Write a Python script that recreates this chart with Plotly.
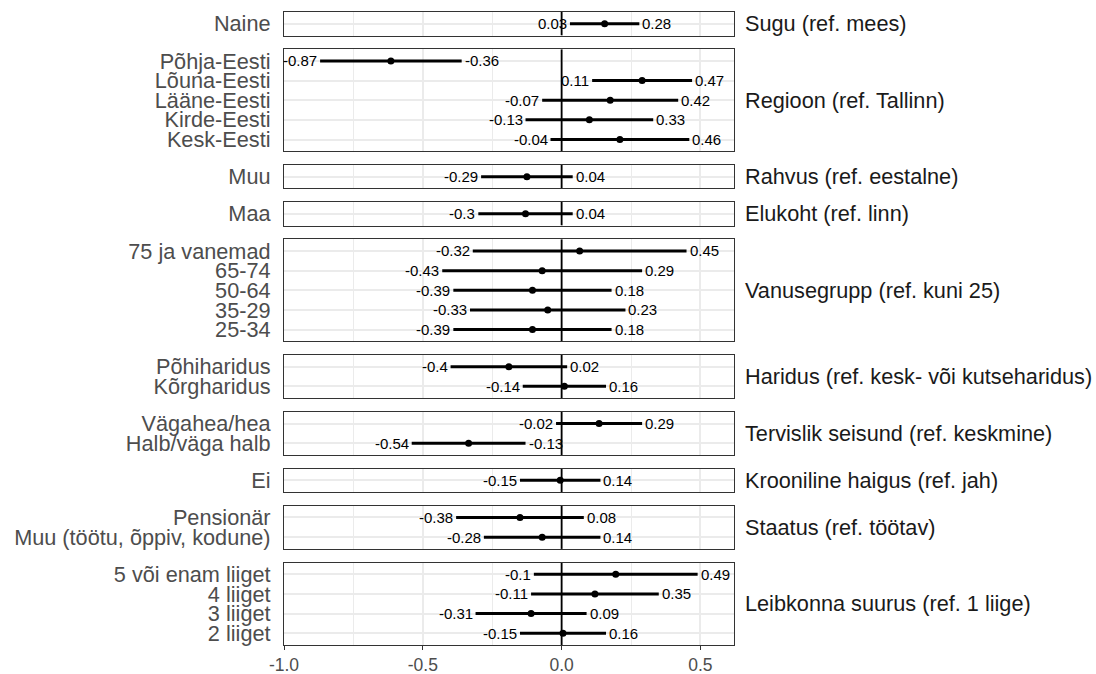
import plotly.graph_objects as go

# ---- data: one row per model term ----
terms = [
    "Naine",
    "Põhja-Eesti", "Lõuna-Eesti", "Lääne-Eesti", "Kirde-Eesti", "Kesk-Eesti",
    "Muu",
    "Maa",
    "75 ja vanemad", "65-74", "50-64", "35-29", "25-34",
    "Põhiharidus", "Kõrgharidus",
    "Vägahea/hea", "Halb/väga halb",
    "Ei",
    "Pensionär", "Muu (töötu, õppiv, kodune)",
    "5 või enam liiget", "4 liiget", "3 liiget", "2 liiget",
]
groups = (
    ["Sugu (ref. mees)"]
    + ["Regioon (ref. Tallinn)"] * 5
    + ["Rahvus (ref. eestalne)"]
    + ["Elukoht (ref. linn)"]
    + ["Vanusegrupp (ref. kuni 25)"] * 5
    + ["Haridus (ref. kesk- või kutseharidus)"] * 2
    + ["Tervislik seisund (ref. keskmine)"] * 2
    + ["Krooniline haigus (ref. jah)"]
    + ["Staatus (ref. töötav)"] * 2
    + ["Leibkonna suurus (ref. 1 liige)"] * 4
)
estimate = [
    0.155,
    -0.615, 0.29, 0.175, 0.10, 0.21,
    -0.125,
    -0.13,
    0.065, -0.07, -0.105, -0.05, -0.105,
    -0.19, 0.01,
    0.135, -0.335,
    -0.005,
    -0.15, -0.07,
    0.195, 0.12, -0.11, 0.005,
]
ci_low = [
    0.03,
    -0.87, 0.11, -0.07, -0.13, -0.04,
    -0.29,
    -0.30,
    -0.32, -0.43, -0.39, -0.33, -0.39,
    -0.40, -0.14,
    -0.02, -0.54,
    -0.15,
    -0.38, -0.28,
    -0.10, -0.11, -0.31, -0.15,
]
ci_high = [
    0.28,
    -0.36, 0.47, 0.42, 0.33, 0.46,
    0.04,
    0.04,
    0.45, 0.29, 0.18, 0.23, 0.18,
    0.02, 0.16,
    0.29, -0.13,
    0.14,
    0.08, 0.14,
    0.49, 0.35, 0.09, 0.16,
]
x_tick_vals = [-1.0, -0.5, 0.0, 0.5]
x_tick_text = ["-1.0", "-0.5", "0.0", "0.5"]

# ---- layout geometry ----
W, H = 1096, 674
M_L, M_R, M_T, M_B = 284, 362, 12, 29
X_RANGE = [-1.0, 0.621]
GAP_PX = 13.6

panels = list(dict.fromkeys(groups))
n_rows = [groups.count(g) for g in panels]
plot_h = H - M_T - M_B
unit = (plot_h - GAP_PX * (len(panels) - 1)) / sum(n + 0.2 for n in n_rows)

BORDER = "#333333"
GRID = "#EBEBEB"
AXIS_TXT = "#4D4D4D"
FONT = "Liberation Sans, Arial, sans-serif"


def fmt(v):
    return f"{round(v, 2):g}"


fig = go.Figure()
annotations = []
offset = 0.0
for k, (panel, n) in enumerate(zip(panels, n_rows), start=1):
    idx = [i for i, g in enumerate(groups) if g == panel]
    ys = [n - j for j in range(n)]
    xs_name = "x" if k == 1 else f"x{k}"
    ys_name = "y" if k == 1 else f"y{k}"

    h = (n + 0.2) * unit
    dom = [1 - (offset + h) / plot_h, 1 - offset / plot_h]
    offset += h + GAP_PX

    # reference line at zero
    fig.add_trace(go.Scatter(
        x=[0, 0], y=[0.4, n + 0.6], mode="lines",
        line=dict(color="black", width=1.8),
        xaxis=xs_name, yaxis=ys_name, showlegend=False, hoverinfo="skip",
    ))
    # confidence intervals
    seg_x, seg_y = [], []
    for i, yy in zip(idx, ys):
        seg_x += [ci_low[i], ci_high[i], None]
        seg_y += [yy, yy, None]
    fig.add_trace(go.Scatter(
        x=seg_x, y=seg_y, mode="lines",
        line=dict(color="black", width=3),
        xaxis=xs_name, yaxis=ys_name, showlegend=False,
    ))
    # point estimates
    fig.add_trace(go.Scatter(
        x=[estimate[i] for i in idx], y=ys, mode="markers",
        marker=dict(color="black", size=7),
        xaxis=xs_name, yaxis=ys_name, showlegend=False,
    ))
    # interval end labels
    for i, yy in zip(idx, ys):
        annotations.append(dict(
            x=ci_low[i], y=yy, xref=xs_name, yref=ys_name,
            text=fmt(ci_low[i]), showarrow=False, xanchor="right",
            yanchor="middle", xshift=-1,
            font=dict(size=15, color="black", family=FONT),
        ))
        annotations.append(dict(
            x=ci_high[i], y=yy, xref=xs_name, yref=ys_name,
            text=fmt(ci_high[i]), showarrow=False, xanchor="left",
            yanchor="middle", xshift=1,
            font=dict(size=15, color="black", family=FONT),
        ))
    # facet strip label
    annotations.append(dict(
        x=1, y=(dom[0] + dom[1]) / 2, xref="paper", yref="paper",
        text=panel, showarrow=False, xanchor="left", yanchor="middle",
        xshift=9, font=dict(size=21.7, color="#1A1A1A", family=FONT),
    ))

    last = k == len(panels)
    xaxis = dict(
        domain=[0, 1], range=X_RANGE, anchor=ys_name, automargin=False,
        tickvals=x_tick_vals, ticktext=x_tick_text,
        showticklabels=last, ticks="outside" if last else "",
        ticklen=4, tickwidth=1, tickcolor=BORDER,
        tickfont=dict(size=17.5, color=AXIS_TXT, family=FONT),
        showgrid=True, gridcolor=GRID, gridwidth=1.5,
        minor=dict(tickvals=[-0.75, -0.25, 0.25], showgrid=True,
                   gridcolor=GRID, gridwidth=0.8),
        zeroline=False, showline=True, mirror=True,
        linecolor=BORDER, linewidth=1.2,
    )
    if k > 1:
        xaxis["matches"] = "x"
    yaxis = dict(
        domain=dom, range=[0.4, n + 0.6], anchor=xs_name, automargin=False,
        tickvals=ys, ticktext=[terms[i] for i in idx], ticks="",
        tickfont=dict(size=21.7, color=AXIS_TXT, family=FONT),
        ticklabelstandoff=8,
        showgrid=True, gridcolor=GRID, gridwidth=1.5,
        zeroline=False, showline=True, mirror=True,
        linecolor=BORDER, linewidth=1.2, fixedrange=True,
    )
    fig.layout["xaxis" if k == 1 else f"xaxis{k}"] = xaxis
    fig.layout["yaxis" if k == 1 else f"yaxis{k}"] = yaxis

fig.update_layout(
    width=W, height=H,
    margin=dict(l=M_L, r=M_R, t=M_T, b=M_B, autoexpand=False),
    paper_bgcolor="white", plot_bgcolor="white",
    font=dict(family=FONT),
    annotations=annotations,
    showlegend=False,
)

fig.write_html("out.html")
